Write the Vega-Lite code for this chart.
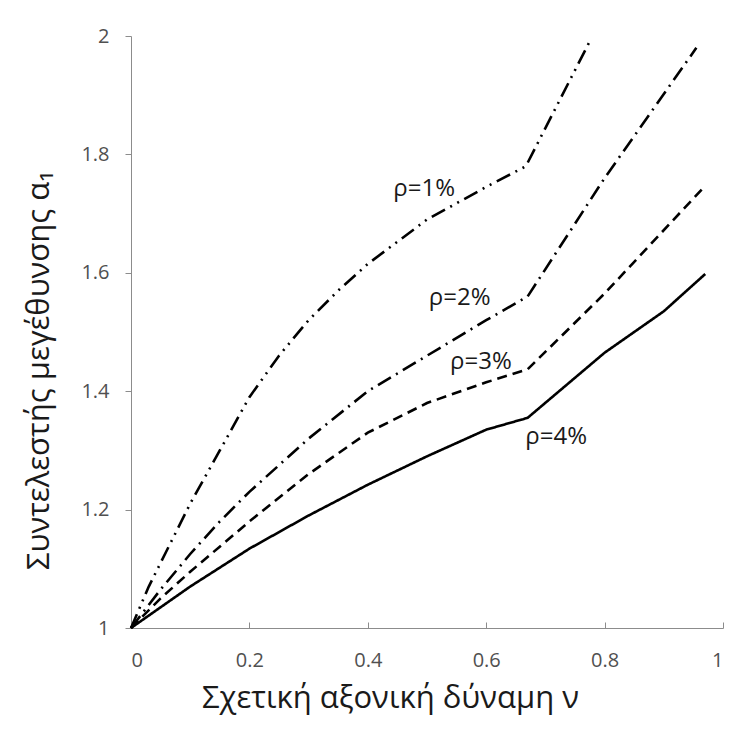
{
  "$schema": "https://vega.github.io/schema/vega-lite/v6.json",
  "width": 592,
  "height": 592,
  "autosize": {"type": "none"},
  "padding": {"left": 131, "top": 36, "right": 16, "bottom": 108},
  "background": "white",
  "config": {"view": {"stroke": null}, "font": "Open Sans"},
  "datasets": {
    "curves": [
      {"rho": "1%", "v": 0, "a": 1}, {"rho": "1%", "v": 0.03, "a": 1.07}, {"rho": "1%", "v": 0.06, "a": 1.13},
      {"rho": "1%", "v": 0.1, "a": 1.21}, {"rho": "1%", "v": 0.15, "a": 1.3}, {"rho": "1%", "v": 0.2, "a": 1.39},
      {"rho": "1%", "v": 0.25, "a": 1.46}, {"rho": "1%", "v": 0.3, "a": 1.52}, {"rho": "1%", "v": 0.35, "a": 1.57},
      {"rho": "1%", "v": 0.4, "a": 1.615}, {"rho": "1%", "v": 0.5, "a": 1.69}, {"rho": "1%", "v": 0.6, "a": 1.745},
      {"rho": "1%", "v": 0.667, "a": 1.78}, {"rho": "1%", "v": 0.777, "a": 1.995},
      {"rho": "2%", "v": 0, "a": 1}, {"rho": "2%", "v": 0.05, "a": 1.065}, {"rho": "2%", "v": 0.1, "a": 1.125},
      {"rho": "2%", "v": 0.15, "a": 1.18}, {"rho": "2%", "v": 0.2, "a": 1.23}, {"rho": "2%", "v": 0.3, "a": 1.32},
      {"rho": "2%", "v": 0.4, "a": 1.4}, {"rho": "2%", "v": 0.5, "a": 1.46}, {"rho": "2%", "v": 0.6, "a": 1.52},
      {"rho": "2%", "v": 0.67, "a": 1.56}, {"rho": "2%", "v": 0.8, "a": 1.76}, {"rho": "2%", "v": 0.955, "a": 1.98},
      {"rho": "3%", "v": 0, "a": 1}, {"rho": "3%", "v": 0.05, "a": 1.05}, {"rho": "3%", "v": 0.1, "a": 1.095},
      {"rho": "3%", "v": 0.2, "a": 1.18}, {"rho": "3%", "v": 0.3, "a": 1.26}, {"rho": "3%", "v": 0.4, "a": 1.33},
      {"rho": "3%", "v": 0.5, "a": 1.38}, {"rho": "3%", "v": 0.6, "a": 1.415}, {"rho": "3%", "v": 0.67, "a": 1.437},
      {"rho": "3%", "v": 0.8, "a": 1.565}, {"rho": "3%", "v": 0.97, "a": 1.747},
      {"rho": "4%", "v": 0, "a": 1}, {"rho": "4%", "v": 0.1, "a": 1.07}, {"rho": "4%", "v": 0.2, "a": 1.134},
      {"rho": "4%", "v": 0.3, "a": 1.19}, {"rho": "4%", "v": 0.4, "a": 1.242}, {"rho": "4%", "v": 0.5, "a": 1.29},
      {"rho": "4%", "v": 0.6, "a": 1.335}, {"rho": "4%", "v": 0.67, "a": 1.355}, {"rho": "4%", "v": 0.8, "a": 1.465},
      {"rho": "4%", "v": 0.9, "a": 1.535}, {"rho": "4%", "v": 0.97, "a": 1.598}
    ],
    "labels": [
      {"label": "ρ=1%", "x": 0.443, "y": 1.742},
      {"label": "ρ=2%", "x": 0.503, "y": 1.557},
      {"label": "ρ=3%", "x": 0.539, "y": 1.449},
      {"label": "ρ=4%", "x": 0.666, "y": 1.323}
    ]
  },
  "layer": [
    {
      "data": {"name": "curves"},
      "mark": {"type": "line", "color": "black", "strokeWidth": 2.6, "strokeCap": "butt", "clip": false},
      "encoding": {
        "x": {
          "field": "v", "type": "quantitative",
          "scale": {"domain": [0, 1], "nice": false},
          "axis": {
            "title": "Σχετική αξονική δύναμη ν",
            "values": [0, 0.2, 0.4, 0.6, 0.8, 1],
            "labelExpr": "datum.value + ''",
            "grid": false,
            "domainColor": "#8c8c8c", "tickColor": "#8c8c8c", "tickSize": -6,
            "labelColor": "#505050", "labelFontSize": 20, "labelPadding": 28, "labelFont": "Open Sans",
            "titleFont": "Open Sans", "titleFontSize": 31, "titleFontWeight": "normal", "titleColor": "#1a1a1a",
            "titleX": 259, "titleY": 70, "titleAlign": "center", "titleBaseline": "middle"
          }
        },
        "y": {
          "field": "a", "type": "quantitative",
          "scale": {"domain": [1, 2], "nice": false, "zero": false},
          "axis": {
            "title": "Συντελεστής μεγέθυνσης α₁",
            "values": [1, 1.2, 1.4, 1.6, 1.8, 2],
            "labelExpr": "datum.value + ''",
            "grid": false,
            "domainColor": "#8c8c8c", "tickColor": "#8c8c8c", "tickSize": 6,
            "labelColor": "#505050", "labelFontSize": 20, "labelPadding": 16, "labelFont": "Open Sans",
            "titleFont": "Open Sans", "titleFontSize": 31, "titleFontWeight": "normal", "titleColor": "#1a1a1a",
            "titleX": -92, "titleY": 334, "titleAngle": 270, "titleAlign": "center", "titleBaseline": "middle"
          }
        },
        "strokeDash": {
          "field": "rho", "type": "nominal",
          "scale": {"domain": ["1%", "2%", "3%", "4%"], "range": [[15, 6, 2, 6, 2, 6], [15, 6, 2, 6], [10, 6], [1, 0]]},
          "legend": null
        }
      }
    },
    {
      "data": {"name": "labels"},
      "mark": {"type": "text", "align": "left", "baseline": "middle", "fontSize": 24, "font": "Open Sans", "color": "#1a1a1a"},
      "encoding": {
        "x": {"field": "x", "type": "quantitative"},
        "y": {"field": "y", "type": "quantitative"},
        "text": {"field": "label"}
      }
    }
  ]
}
